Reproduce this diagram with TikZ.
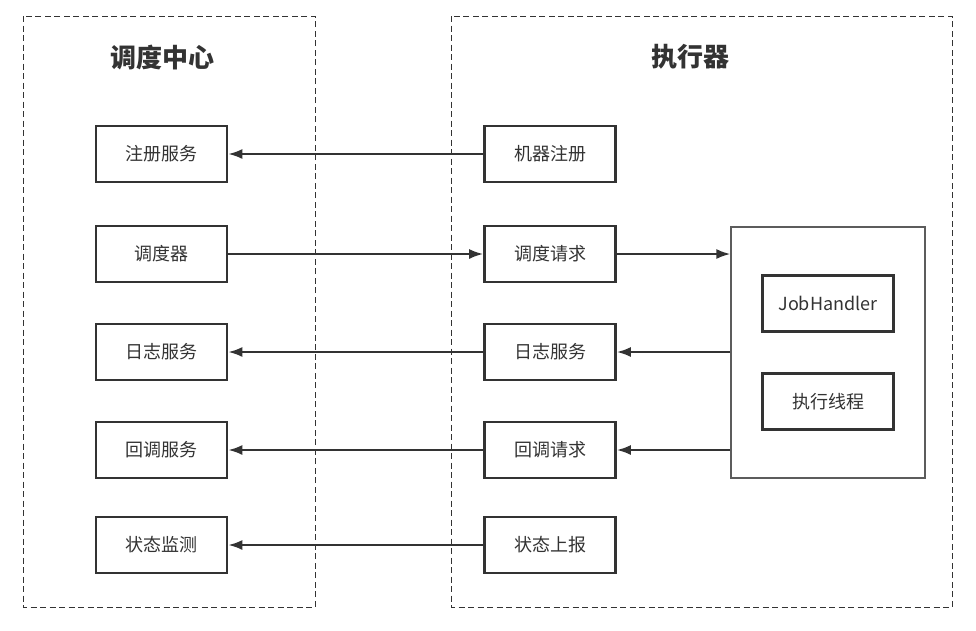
\documentclass[tikz,border=0pt]{standalone}
\usepackage{fontspec}
\setmainfont{Noto Sans CJK SC}
\usetikzlibrary{arrows.meta}
\definecolor{ink}{HTML}{333333}
\tikzset{
  box/.style={draw=ink,line width=2.6pt,minimum width=131pt,minimum height=56pt,
    font=\fontsize{18}{20}\selectfont,text=ink},
  group/.style={draw=ink,dashed,line width=1pt,dash pattern=on 6pt off 3.5pt},
  title/.style={font=\fontsize{26}{30}\selectfont\bfseries,text=ink},
  link/.style={draw=ink,line width=2.2pt,-{Latex[length=14pt,width=10pt]}}
}
\begin{document}
\begin{tikzpicture}[x=1pt,y=-1pt]
\useasboundingbox[fill=white] (0,0) rectangle (976,630);
% groups
\draw[group] (23,16) rectangle (315,607);
\draw[group] (451,16) rectangle (952,607);
\node[title] (center) at (162,57) {调度中心};
\node[title] (executor) at (690,57) {执行器};
% scheduling center
\node[box] (reg) at (161.5,154) {注册服务};
\node[box] (sched) at (161.5,254) {调度器};
\node[box] (log) at (161.5,352) {日志服务};
\node[box] (cb) at (161.5,450) {回调服务};
\node[box] (mon) at (161.5,545) {状态监测};
% executor
\node[box] (machine) at (550,154) {机器注册};
\node[box] (req) at (550,254) {调度请求};
\node[box] (elog) at (550,352) {日志服务};
\node[box] (ecb) at (550,450) {回调请求};
\node[box] (report) at (550,545) {状态上报};
\node[draw=ink!80,line width=1.2pt,minimum width=194pt,minimum height=251pt] (pool) at (828,352.5) {};
\node[box] (handler) at (828,303.5) {JobHandler};
\node[box] (thread) at (828,401.5) {执行线程};
% links
\draw[link] (machine) -- (reg);
\draw[link] (sched) -- (req);
\draw[link] (req) -- (req -| pool.west);
\draw[link] (elog -| pool.west) -- (elog);
\draw[link] (elog) -- (log);
\draw[link] (ecb -| pool.west) -- (ecb);
\draw[link] (ecb) -- (cb);
\draw[link] (report) -- (mon);
\end{tikzpicture}
\end{document}
